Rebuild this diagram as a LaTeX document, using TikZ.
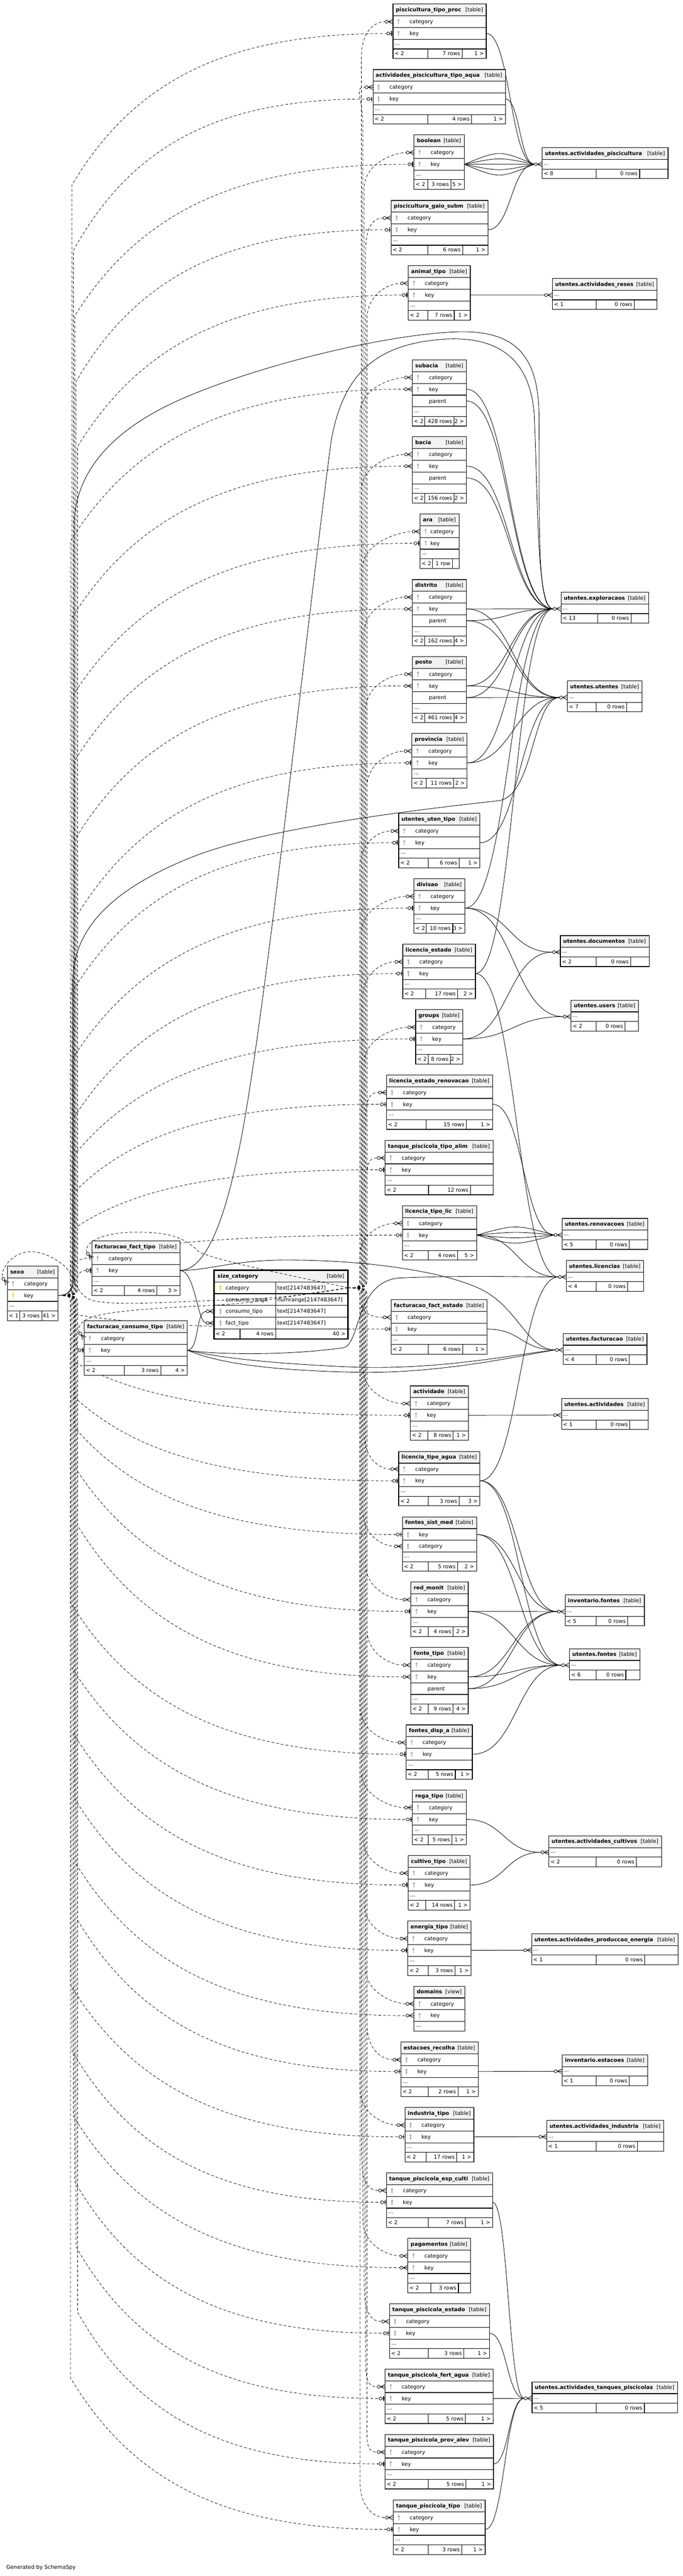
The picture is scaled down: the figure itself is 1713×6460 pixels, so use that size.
\documentclass[tikz,border=0pt]{standalone}
\usepackage{fontspec}
\setmainfont{DejaVu Sans}
\usetikzlibrary{calc}
\pgfdeclarelayer{bg}
\pgfdeclarelayer{fg}
\pgfsetlayers{bg,main,fg}
\definecolor{hdrgray}{HTML}{F2F2F2}
\definecolor{keygray}{HTML}{ABABAB}
\definecolor{keyyel}{HTML}{E2D500}
\tikzset{
  txt/.style={inner sep=0pt,outer sep=0pt,font=\fontsize{10}{12}\selectfont},
  btxt/.style={inner sep=0pt,outer sep=0pt,font=\fontsize{10}{12}\selectfont\bfseries},
  tline/.style={draw=black,line width=1.1pt},
  fk/.style={draw=black,line width=0.85pt},
  dfk/.style={draw=black,line width=0.75pt,dash pattern=on 5.25pt off 3.75pt},
  arr/.style={draw=black,line width=0.85pt},
}
\newcommand\keyicon[3]{%
  \fill[#3] (#1,#2-3.6) ellipse (2.4 and 2.9);
  \fill[#3] (#1-0.85,#2-2) rectangle (#1+0.85,#2+6.8);
  \fill[#3] (#1,#2+3.2) rectangle (#1+2.1,#2+4.4);
}
\def\footparse#1/#2/#3/#4/#5\endfoot{%
  \draw[tline] (#1,\tfoottop) -- (#1,\tbot) (#2,\tfoottop) -- (#2,\tbot);
  \node[txt,anchor=base west] at (\tL+4,\tfoottop+16.5) {#3};
  \node[txt,anchor=base east] at (#2-5,\tfoottop+16.5) {#4};
  \node[txt,anchor=base east] at (\tR-6,\tfoottop+16.5) {#5};
}
% id, L, R, top, title, nrows, rows, footer, text offset
\newcommand\dbtab[9]{%
  \def\tL{#2}\def\tR{#3}%
  \def\tfoot{#8}\def\tviewkw{view}%
  \pgfmathsetmacro\tdots{#4+29.5*(#6+1)}%
  \pgfmathsetmacro\tfoottop{\tdots+24}%
  \ifx\tfoot\tviewkw
    \pgfmathsetmacro\tbot{\tfoottop}\def\tkind{[view]}%
  \else
    \pgfmathsetmacro\tbot{\tfoottop+24}\def\tkind{[table]}%
  \fi
  \fill[white] (#2,#4) rectangle (#3,\tbot);
  \fill[hdrgray] (#2,#4) rectangle (#3,#4+29.5);
  \node[btxt,anchor=base west] at (#2+7,#4+19) {#5};
  \node[txt,anchor=base east] at (#3-8,#4+19) {\tkind};
  \foreach \ic/\tx [count=\i] in {#7} {%
    \pgfmathsetmacro\ya{#4+29.5*\i}%
    \draw[tline] (#2,\ya) -- (#3,\ya);
    \coordinate (#1-\i-w) at (#2,\ya+14.75);
    \coordinate (#1-\i-e) at (#3,\ya+14.75);
    \node[txt,anchor=base west] at (#2+#9,\ya+19.5) {\tx};
    \if k\ic \keyicon{#2+14}{\ya+14.75}{keygray}\fi
    \if y\ic \keyicon{#2+14}{\ya+14.75}{keyyel}\fi
  }%
  \draw[tline] (#2,\tdots) -- (#3,\tdots);
  \node[txt,anchor=base west] at (#2+5,\tdots+14) {...};
  \ifx\tfoot\tviewkw\else
    \draw[tline] (#2,\tfoottop) -- (#3,\tfoottop);
    \expandafter\footparse\tfoot\endfoot
  \fi
  \draw[tline] (#2,#4) rectangle (#3,\tbot);
}
% id, L, R, top, title, d1, d2, left text
\newcommand\rtab[8]{%
  \pgfmathsetmacro\rdots{#4+29.5}\pgfmathsetmacro\rft{#4+53.5}\pgfmathsetmacro\rbot{#4+77.5}%
  \fill[white] (#2,#4) rectangle (#3,\rbot);
  \fill[hdrgray] (#2,#4) rectangle (#3,\rdots);
  \node[btxt,anchor=base west] at (#2+7,#4+19) {#5};
  \node[txt,anchor=base east] at (#3-8,#4+19) {[table]};
  \draw[tline] (#2,\rdots) -- (#3,\rdots) (#2,\rft) -- (#3,\rft) (#6,\rft) -- (#6,\rbot) (#7,\rft) -- (#7,\rbot);
  \node[txt,anchor=base west] at (#2+4,\rdots+14) {...};
  \node[txt,anchor=base west] at (#2+4,\rft+16.5) {#8};
  \node[txt,anchor=base east] at (#7-5,\rft+16.5) {0 rows};
  \draw[tline] (#2,#4) rectangle (#3,\rbot);
  \coordinate (#1-in) at (#2,\rdots+12);
}
\newcommand\crowrot[2]{%
  \begin{scope}[shift={(#1)},rotate=#2]
    \draw[arr] (-12,0) -- (0,-6) (-12,0) -- (0,6) (-12,0) -- (0,0);
    \draw[arr,fill=white] (-16,0) circle (3.8);
  \end{scope}}
\newcommand\crowend[1]{\crowrot{#1}{0}}
\newcommand\teeend[1]{%
  \begin{scope}[shift={(#1)}]
    \draw[arr] (-8,0) -- (0,0);
    \draw[line width=1.6pt] (-3.5,-6) -- (-3.5,6);
    \draw[arr,fill=white] (-11.5,0) circle (3.8);
  \end{scope}}
\newcommand\arrowhead[2]{\if#1c\crowend{#2}\else\teeend{#2}\fi}
\newcommand\fkedge[3][0]{%
  \draw[fk] let \p1=(#2), \p2=([shift={(-19.8,0)}]#3), \n1={0.5*(\x2-\x1)} in
    (\p1) .. controls ({\x1+\n1},{\y1-0.75*(#1)}) and ({\x2-\n1},{\y2-0.75*(#1)}) .. (\p2);
}
\newcommand\catedge[2]{%
  \draw[dfk] let \p1=(SC-1-e), \p2=([shift={(-19.8,0)}]#1), \p3=(#2,0),
    \n1={ifthenelse(\y2>\y1,1,-1)}, \n2={min(67.5,abs(\y2-\y1)/2)},
    \n3={min(22.5,abs(\y2-\y1)/3)} in
    (\p1) .. controls (\x3,\y1) and (\x3,\y1) .. (\x3,{\y1+\n1*\n3})
    -- (\x3,{\y2-\n1*\n2})
    .. controls (\x3,{\y2-\n1*\n2*0.3}) and ({\x2-22},\y2) .. (\p2);
}
\newcommand\keyedge[3]{%
  \if#3c\def\eoff{19.8}\else\def\eoff{15.3}\fi
  \draw[dfk] let \p1=(SX-2-e), \p2=([shift={(-\eoff,0)}]#1), \p3=(#2,0),
    \n1={ifthenelse(\y2>\y1,1,-1)}, \n2={min(285,0.45*abs(\y2-\y1))},
    \n3={min(22.5,abs(\y2-\y1)/3)} in
    (\p1) .. controls (\x3,\y1) and (\x3,\y1) .. (\x3,{\y1+\n1*\n3})
    -- (\x3,{\y2-\n1*\n2})
    .. controls ({\x3+0.2*(\x2-\x3)},{\y2-\n1*\n2*0.3}) and ({\x3+0.5*(\x2-\x3)},\y2) .. (\p2);
}
\begin{document}
\begin{tikzpicture}[x=0.75pt,y=-0.75pt]
\useasboundingbox (0,0) rectangle (1713,6460);
%%% middle column
\dbtab{T1}{985.7}{1219.6}{10.2}{piscicultura\_tipo\_proc}{2}{k/category,k/key}{1073.3/1159.3/< 2/7 rows/1 >}{41.5}
\dbtab{T2}{935.5}{1267.7}{174.5}{actividades\_piscicultura\_tipo\_aqua}{2}{k/category,k/key}{1073.3/1183.3/< 2/4 rows/1 >}{41.5}
\dbtab{T3}{1038.6}{1164.6}{338.3}{boolean}{2}{k/category,k/key}{1073.3/1131/< 2/3 rows/5 >}{41.5}
\dbtab{T4}{980.9}{1223.9}{502.5}{piscicultura\_gaio\_subm}{2}{k/category,k/key}{1073.3/1160.3/< 2/6 rows/1 >}{41.5}
\dbtab{T5}{1024.2}{1179.6}{666.3}{animal\_tipo}{2}{k/category,k/key}{1073.3/1139.5/< 2/7 rows/1 >}{41.5}
\dbtab{T6}{1034.4}{1170}{902.4}{subacia}{3}{k/category,k/key,n/parent}{1065.6/1138.9/< 2/428 rows/2 >}{41.5}
\dbtab{T7}{1034.4}{1170}{1095.3}{bacia}{3}{k/category,k/key,n/parent}{1065.6/1138.9/< 2/156 rows/2 >}{41.5}
\dbtab{T8}{1053.6}{1151.4}{1288.7}{ara}{2}{k/category,k/key}{1084.2/1134.5/< 2/1 row/}{26}
\dbtab{T9}{1034.4}{1170}{1453.4}{distrito}{3}{k/category,k/key,n/parent}{1065.6/1138.9/< 2/162 rows/4 >}{41.5}
\dbtab{T10}{1034.4}{1170}{1646.3}{posto}{3}{k/category,k/key,n/parent}{1065.6/1138.9/< 2/461 rows/4 >}{41.5}
\dbtab{T11}{1033.3}{1171.7}{1839.4}{provincia}{2}{k/category,k/key}{1069.4/1137.8/< 2/11 rows/2 >}{41.5}
\dbtab{T12}{1000}{1204}{2039.6}{utentes\_uten\_tipo}{2}{k/category,k/key}{1073.8/1152/< 2/6 rows/1 >}{41.5}
\dbtab{T13}{1038.3}{1166.2}{2203.6}{divisao}{2}{k/category,k/key}{1069.4/1135.6/< 2/10 rows/3 >}{41.5}
\dbtab{T14}{1010.4}{1192.5}{2367.7}{licencia\_estado}{2}{k/category,k/key}{1068.3/1148.2/< 2/17 rows/2 >}{41.5}
\dbtab{T15}{1042.6}{1160.7}{2531.8}{groups}{2}{k/category,k/key}{1073.8/1130.1/< 2/8 rows/2 >}{41.5}
\dbtab{T16}{969.4}{1235.7}{2695.5}{licencia\_estado\_renovacao}{2}{k/category,k/key}{1069.4/1170/< 2/15 rows/1 >}{41.5}
\dbtab{T17}{966.1}{1236.8}{2859.6}{tanque\_piscicola\_tipo\_alim}{2}{k/category,k/key}{1074.9/1179.9/< 2/12 rows/}{41.5}
\dbtab{T18}{1009.3}{1195.2}{3023.6}{licencia\_tipo\_lic}{2}{k/category,k/key}{1073.8/1147.6/< 2/4 rows/5 >}{41.5}
\dbtab{T19}{980.8}{1222}{3259.3}{facturacao\_fact\_estado}{2}{k/category,k/key}{1073.8/1160.7/< 2/6 rows/1 >}{41.5}
\dbtab{T20}{1029.5}{1175}{3475.5}{actividade}{2}{k/category,k/key}{1073.3/1136.7/< 2/8 rows/1 >}{41.5}
\dbtab{T21}{1000}{1204}{3639.8}{licencia\_tipo\_agua}{2}{k/category,k/key}{1073.8/1152/< 2/3 rows/3 >}{41.5}
\dbtab{T22}{1009.3}{1195.2}{3803.9}{fontes\_sist\_med}{2}{k/key,k/category}{1073.8/1147.6/< 2/5 rows/2 >}{41.5}
\dbtab{T23}{1030.6}{1174.4}{3967.3}{red\_monit}{2}{k/category,k/key}{1073.8/1136.7/< 2/4 rows/2 >}{41.5}
\dbtab{T24}{1030.6}{1174.4}{4131.4}{fonte\_tipo}{3}{k/category,k/key,n/parent}{1073.8/1136.7/< 2/9 rows/4 >}{41.5}
\dbtab{T25}{1018.6}{1184.8}{4325.5}{fontes\_disp\_a}{2}{k/category,k/key}{1073.8/1142.1/< 2/5 rows/1 >}{41.5}
\dbtab{T26}{1034.4}{1170}{4488.9}{rega\_tipo}{2}{k/category,k/key}{1073.8/1134/< 2/5 rows/1 >}{41.5}
\dbtab{T27}{1024}{1179.3}{4653.3}{cultivo\_tipo}{2}{k/category,k/key}{1068.3/1140.5/< 2/14 rows/1 >}{41.5}
\dbtab{T28}{1023}{1182}{4817.3}{energia\_tipo}{2}{k/category,k/key}{1073.8/1141/< 2/3 rows/1 >}{41.5}
\dbtab{T29}{1038.3}{1166.2}{4980.8}{domains}{2}{k/category,k/key}{view}{41.5}
\dbtab{T30}{1005.4}{1199.6}{5121}{estacoes\_recolha}{2}{k/category,k/key}{1073.8/1148.7/< 2/2 rows/1 >}{41.5}
\dbtab{T31}{1015.8}{1188.6}{5285}{industria\_tipo}{2}{k/category,k/key}{1069.4/1145.4/< 2/17 rows/1 >}{41.5}
\dbtab{T32}{969.4}{1235.7}{5449}{tanque\_piscicola\_esp\_culti}{2}{k/category,k/key}{1073.8/1167.8/< 2/7 rows/1 >}{41.5}
\dbtab{T33}{1023}{1180.4}{5613}{pagamentos}{2}{k/category,k/key}{1080.4/1149.8/< 2/3 rows/}{41.5}
\dbtab{T34}{977}{1228}{5777.5}{tanque\_piscicola\_estado}{2}{k/category,k/key}{1073.8/1163.5/< 2/3 rows/1 >}{41.5}
\dbtab{T35}{966}{1236.8}{5941}{tanque\_piscicola\_fert\_agua}{2}{k/category,k/key}{1073.8/1167.8/< 2/5 rows/1 >}{41.5}
\dbtab{T36}{966}{1237.8}{6105}{tanque\_piscicola\_prov\_alev}{2}{k/category,k/key}{1073.8/1169/< 2/5 rows/1 >}{41.5}
\dbtab{T37}{986.3}{1217}{6269.4}{tanque\_piscicola\_tipo}{2}{k/category,k/key}{1073.8/1158.5/< 2/3 rows/1 >}{41.5}
%%% left tables
\dbtab{SX}{18.6}{145.5}{3175}{sexo}{2}{k/category,y/key}{49.6/104.9/< 1/3 rows/41 >}{42}
\dbtab{FT}{230.7}{451.3}{3112.2}{facturacao\_fact\_tipo}{2}{k/category,k/key}{312/393.7/< 2/4 rows/3 >}{42}
\dbtab{CT}{211.5}{470}{3312.3}{facturacao\_consumo\_tipo}{2}{k/category,k/key}{312/403.3/< 2/3 rows/4 >}{42}
%%% size_category
\fill[white] (537,3185.2) rectangle (872.7,3358);
\fill[hdrgray] (537,3185.2) rectangle (872.7,3214.7);
\node[btxt,anchor=base west] at (545.5,3204.2) {size\_category};
\node[txt,anchor=base east] at (863.7,3204.2) {[table]};
\draw[tline] (537,3214.7) -- (872.7,3214.7) (537,3244.2) -- (872.7,3244.2) (537,3273.7) -- (872.7,3273.7) (537,3303.2) -- (872.7,3303.2) (537,3332.7) -- (872.7,3332.7);
\draw[tline] (691.6,3214.7) -- (691.6,3358) (602,3332.7) -- (602,3358);
\coordinate (SC-1-w) at (537,3229.45); \coordinate (SC-1-e) at (872.7,3229.45);
\coordinate (SC-2-w) at (537,3258.95); \coordinate (SC-2-e) at (872.7,3258.95);
\coordinate (SC-3-w) at (537,3288.45); \coordinate (SC-3-e) at (872.7,3288.45);
\coordinate (SC-4-w) at (537,3317.95); \coordinate (SC-4-e) at (872.7,3317.95);
\keyicon{553}{3229.45}{keyyel}
\keyicon{553}{3288.45}{keygray}
\keyicon{553}{3317.95}{keygray}
\node[txt,anchor=base west] at (566,3234.2) {category};
\node[txt,anchor=base west] at (566,3263.7) {consumo\_range};
\node[txt,anchor=base west] at (566,3293.2) {consumo\_tipo};
\node[txt,anchor=base west] at (566,3322.7) {fact\_tipo};
\node[txt,anchor=base west] at (695.5,3234.2) {text[2147483647]};
\node[txt,anchor=base west] at (695.5,3263.7) {numrange[2147483647]};
\node[txt,anchor=base west] at (695.5,3293.2) {text[2147483647]};
\node[txt,anchor=base west] at (695.5,3322.7) {text[2147483647]};
\node[txt,anchor=base west] at (541,3349.5) {< 2};
\node[txt,anchor=base east] at (686.5,3349.5) {4 rows};
\node[txt,anchor=base east] at (866.7,3349.5) {40 >};
\draw[draw=black,line width=2.3pt] (537,3185.2) rectangle (872.7,3358);
%%% right column
\rtab{R1}{1360}{1675.7}{370.4}{utentes.actividades\_piscicultura}{1495.7}{1604.6}{< 8}
\rtab{R2}{1385.7}{1648.4}{698.5}{utentes.actividades\_reses}{1495.7}{1590.8}{< 1}
\rtab{R3}{1407.3}{1627.2}{1485.3}{utentes.exploracaos}{1499.8}{1582.9}{< 13}
\rtab{R4}{1423.2}{1610.8}{1707.6}{utentes.utentes}{1496}{1572}{< 7}
\rtab{R5}{1405.7}{1628.3}{2346.3}{utentes.documentos}{1496}{1581.8}{< 2}
\rtab{R6}{1432.5}{1601.5}{2507.9}{utentes.users}{1496}{1568}{< 2}
\rtab{R7}{1410}{1624.4}{3055.5}{utentes.renovacoes}{1496}{1578.5}{< 5}
\rtab{R8}{1420.5}{1614.6}{3160.8}{utentes.licencias}{1496}{1574.7}{< 4}
\rtab{R9}{1412.8}{1622.8}{3343.8}{utentes.facturacao}{1496}{1578.5}{< 4}
\rtab{R10}{1408.4}{1625.5}{3507.3}{utentes.actividades}{1496}{1580}{< 1}
\rtab{R11}{1417.7}{1616.2}{3999.8}{inventario.fontes}{1496}{1574.7}{< 5}
\rtab{R12}{1428.7}{1605.3}{4134.5}{utentes.fontes}{1496}{1569.8}{< 6}
\rtab{R13}{1376.7}{1659.4}{4603.7}{utentes.actividades\_cultivos}{1496}{1596.5}{< 2}
\rtab{R14}{1333.5}{1701}{4849.2}{utentes.actividades\_produccao\_energia}{1496}{1617.3}{< 1}
\rtab{R15}{1410}{1624.4}{5152.8}{inventario.estacoes}{1496}{1578.5}{< 1}
\rtab{R16}{1371.3}{1664.9}{5317}{utentes.actividades\_industria}{1496}{1598.7}{< 1}
\rtab{R17}{1334.6}{1699.3}{5973}{utentes.actividades\_tanques\_piscicolas}{1496}{1616.2}{< 5}
\node[txt,anchor=base west] (gen) at (16,6443) {Generated by SchemaSpy};
%%% edges
\begin{pgfonlayer}{bg}
\fill[white] (0,0) rectangle (1713,6460);
\foreach \tb/\kt [count=\cnt] in {T1/t,T2/t,T3/t,T4/t,T5/t,T6/c,T7/c,T8/t,T9/c,T10/c,T11/t,T12/t,T13/t,T14/t,T15/t,T16/t,T17/t,T18/t,T19/t,T20/t,T21/t,T23/t,T24/c,T25/t,T26/t,T27/t,T28/t,T29/c,T30/t,T31/t,T32/t,T33/c,T34/t,T35/t,T36/t,T37/t}{
  \pgfmathsetmacro\bxc{903+3.5*mod(\cnt,6)}
  \pgfmathsetmacro\bxk{177+3.5*mod(\cnt,6)}
  \catedge{\tb-1-w}{\bxc}
  \keyedge{\tb-2-w}{\bxk}{\kt}
}
\catedge{T22-2-w}{910}
\keyedge{T22-1-w}{186}{t}
\keyedge{FT-2-w}{190}{t}
\keyedge{CT-2-w}{190}{t}
% solid relationships
\fkedge{T1-2-e}{R1-in}
\fkedge{T2-2-e}{R1-in}
\fkedge[-36]{T3-2-e}{R1-in}
\fkedge[-18]{T3-2-e}{R1-in}
\fkedge{T3-2-e}{R1-in}
\fkedge[18]{T3-2-e}{R1-in}
\fkedge[36]{T3-2-e}{R1-in}
\fkedge{T4-2-e}{R1-in}
\fkedge{T5-2-e}{R2-in}
\fkedge{T6-2-e}{R3-in}\fkedge{T6-3-e}{R3-in}
\fkedge{T7-2-e}{R3-in}\fkedge{T7-3-e}{R3-in}
\fkedge{T9-2-e}{R3-in}\fkedge{T9-3-e}{R3-in}\fkedge{T9-2-e}{R4-in}\fkedge{T9-3-e}{R4-in}
\fkedge{T10-2-e}{R3-in}\fkedge{T10-3-e}{R3-in}\fkedge{T10-2-e}{R4-in}\fkedge{T10-3-e}{R4-in}
\fkedge{T11-2-e}{R3-in}\fkedge{T11-2-e}{R4-in}
\fkedge{T12-2-e}{R4-in}
\fkedge{T13-2-e}{R3-in}\fkedge{T13-2-e}{R5-in}\fkedge{T13-2-e}{R6-in}
\fkedge{T14-2-e}{R3-in}\fkedge{T14-2-e}{R8-in}
\fkedge{T15-2-e}{R5-in}\fkedge{T15-2-e}{R6-in}
\fkedge{T16-2-e}{R7-in}
\fkedge[-27]{T18-2-e}{R7-in}\fkedge[-9]{T18-2-e}{R7-in}\fkedge[9]{T18-2-e}{R7-in}\fkedge[27]{T18-2-e}{R7-in}
\fkedge{T18-2-e}{R8-in}
\fkedge{T19-2-e}{R9-in}
\fkedge{T20-2-e}{R10-in}
\fkedge{T21-2-e}{R8-in}\fkedge{T21-2-e}{R11-in}\fkedge{T21-2-e}{R12-in}
\fkedge{T22-1-e}{R11-in}\fkedge{T22-1-e}{R12-in}
\fkedge{T23-2-e}{R11-in}\fkedge{T23-2-e}{R12-in}
\fkedge{T24-2-e}{R11-in}\fkedge{T24-2-e}{R12-in}\fkedge{T24-3-e}{R11-in}\fkedge{T24-3-e}{R12-in}
\fkedge{T25-2-e}{R12-in}
\fkedge{T26-2-e}{R13-in}\fkedge{T27-2-e}{R13-in}
\fkedge{T28-2-e}{R14-in}
\fkedge{T30-2-e}{R15-in}
\fkedge{T31-2-e}{R16-in}
\fkedge{T32-2-e}{R17-in}\fkedge{T34-2-e}{R17-in}\fkedge{T35-2-e}{R17-in}\fkedge{T36-2-e}{R17-in}\fkedge{T37-2-e}{R17-in}
% long solid relationships
\draw[fk] (SX-2-e) .. controls (172,3248.75) and (186,3235) .. (186,3200) -- (186,1320)
  .. controls (186,1200) and (260,1080) .. (480,990)
  .. controls (700,900) and (1000,835) .. (1155,832)
  .. controls (1300,830) and (1350,900) .. (1352,1040)
  .. controls (1354,1300) and (1345,1527) .. ([shift={(-19.8,0)}]R3-in);
\draw[fk] (SX-2-e) .. controls (172,3248.75) and (183,3235) .. (183,3200) -- (183,2460)
  .. controls (183,2330) and (280,2230) .. (480,2150)
  .. controls (680,2070) and (1100,2025) .. (1250,2008)
  .. controls (1340,1998) and (1335,1752) .. ([shift={(-19.8,0)}]R4-in);
\draw[fk] (FT-2-e) .. controls (530,3186) and (575,3000) .. (600,2880)
  .. controls (660,2590) and (760,1650) .. (830,1110)
  .. controls (860,930) and (950,860) .. (1122,850)
  .. controls (1250,845) and (1330,900) .. (1340,1040)
  .. controls (1350,1250) and (1345,1527) .. ([shift={(-19.8,0)}]R3-in);
\draw[fk] (FT-2-e) .. controls (520,3186) and (580,3162) .. (700,3160)
  .. controls (900,3158) and (1100,3185) .. (1200,3230)
  .. controls (1300,3275) and (1320,3385) .. ([shift={(-19.8,0)}]R9-in);
\draw[fk] (FT-2-e) .. controls (490,3186) and (495,3318) .. ([shift={(-19.8,0)}]SC-4-w);
\draw[fk] (CT-2-e) .. controls (500,3386) and (490,3288.5) .. ([shift={(-19.8,0)}]SC-3-w);
\draw[fk] (CT-2-e) .. controls (520,3395) and (700,3402) .. (860,3380)
  .. controls (905,3374) and (890,3215) .. (1000,3205)
  .. controls (1150,3198) and (1300,3202) .. ([shift={(-19.8,0)}]R8-in);
\draw[fk] (CT-2-e) .. controls (540,3402) and (650,3418) .. (880,3428)
  .. controls (1100,3437) and (1300,3395) .. ([shift={(-19.8,0)}]R9-in);
\draw[fk] (CT-2-e) .. controls (540,3415) and (650,3435) .. (880,3441)
  .. controls (1100,3447) and (1300,3400) .. ([shift={(-19.8,0)}]R9-in);
\end{pgfonlayer}
%%% arrowheads and crossing edges
\begin{pgfonlayer}{fg}
\foreach \tb/\kt in {T1/t,T2/t,T3/t,T4/t,T5/t,T6/c,T7/c,T8/t,T9/c,T10/c,T11/t,T12/t,T13/t,T14/t,T15/t,T16/t,T17/t,T18/t,T19/t,T20/t,T21/t,T23/t,T24/c,T25/t,T26/t,T27/t,T28/t,T29/c,T30/t,T31/t,T32/t,T33/c,T34/t,T35/t,T36/t,T37/t}{
  \crowend{\tb-1-w}
  \arrowhead{\kt}{\tb-2-w}
}
\crowend{T22-2-w}\teeend{T22-1-w}
\teeend{FT-2-w}\teeend{CT-2-w}
\foreach \r in {R1,R2,R3,R4,R5,R6,R7,R8,R9,R10,R11,R12,R13,R14,R15,R16,R17}{\crowend{\r-in}}
\crowend{SC-3-w}\crowend{SC-4-w}
\draw[dfk] (SC-1-e) .. controls (700,3192) and (560,3165) .. (500,3140)
  .. controls (460,3100) and (420,3090) .. (340,3090)
  .. controls (250,3090) and (208,3120) .. (218,3141.8);
\crowrot{FT-1-w}{-50}
\draw[dfk] (SC-1-e) .. controls (760,3245) and (640,3268) .. (541,3273)
  .. controls (420,3279) and (300,3285) .. (240,3300)
  .. controls (212,3307) and (192,3322) .. (198.8,3341.8);
\crowrot{CT-1-w}{-50}
\draw[dfk] (SC-1-e) .. controls (760,3252) and (640,3258) .. (541,3261)
  .. controls (420,3265) and (300,3275) .. (235,3262)
  .. controls (190,3252) and (188,3198) .. (163,3176)
  .. controls (132,3149) and (95,3135) .. (65,3140)
  .. controls (30,3146) and (2,3180) .. (5.9,3203.1);
\crowrot{SX-1-w}{-50}
\end{pgfonlayer}
\end{tikzpicture}
\end{document}
